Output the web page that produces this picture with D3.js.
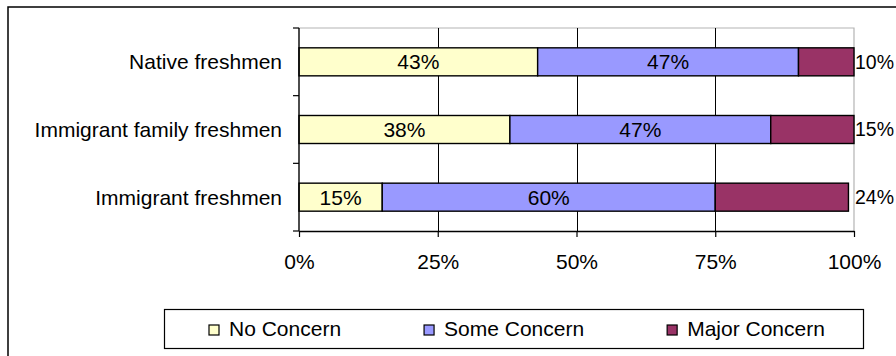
<!DOCTYPE html>
<html>
<head>
<meta charset="utf-8">
<script src="https://cdn.jsdelivr.net/npm/d3@7/dist/d3.min.js"></script>
<style>
  html, body { margin: 0; padding: 0; background: #fff; }
  svg { display: block; font-family: "Liberation Sans", Arial, sans-serif; }
</style>
</head>
<body>
<svg id="chart" width="896" height="356"></svg>
<script>
// Share of freshmen by level of concern
const categories = ["Native freshmen", "Immigrant family freshmen", "Immigrant freshmen"];
const seriesNames = ["No Concern", "Some Concern", "Major Concern"];
const noConcern = [43, 38, 15];
const someConcern = [47, 47, 60];
const majorConcern = [10, 15, 24];
const tickValues = [0, 25, 50, 75, 100];
const tickLabels = ["0%", "25%", "50%", "75%", "100%"];
const colors = ["#FFFFCC", "#9999FF", "#993366"];

const svg = d3.select("#chart");
const fontSize = 21;

// chart frame (extends past the visible window on the right and bottom)
svg.append("rect")
  .attr("x", 8).attr("y", 7).attr("width", 1200).attr("height", 1200)
  .attr("fill", "#fff").attr("stroke", "#000").attr("stroke-width", 1.5);

const plot = { left: 299, right: 854, top: 28, bottom: 231 };

const x = d3.scaleLinear().domain([0, 100]).range([plot.left, plot.right]);
const y = d3.scaleBand().domain(categories)
  .range([plot.top, plot.bottom])
  .paddingInner(0.586).paddingOuter(0.293);

// rows for stacking
const rows = categories.map((c, i) => ({
  category: c,
  "No Concern": noConcern[i],
  "Some Concern": someConcern[i],
  "Major Concern": majorConcern[i]
}));
const stacked = d3.stack().keys(seriesNames)(rows);

// plot area border (top and right)
svg.append("path")
  .attr("d", `M${plot.left},${plot.top}H${plot.right}V${plot.bottom}`)
  .attr("fill", "none").attr("stroke", "#b4b4b4").attr("stroke-width", 1.2);

// vertical gridlines
svg.append("g").selectAll("line")
  .data(tickValues.filter(v => v > 0 && v < 100))
  .join("line")
  .attr("x1", d => Math.round(x(d)) + 0.5).attr("x2", d => Math.round(x(d)) + 0.5)
  .attr("y1", plot.top).attr("y2", plot.bottom)
  .attr("stroke", "#000").attr("stroke-width", 1);

// bars
const layer = svg.append("g").selectAll("g")
  .data(stacked)
  .join("g")
  .attr("fill", (d, i) => colors[i]);

layer.selectAll("rect")
  .data(d => d)
  .join("rect")
  .attr("x", d => x(d[0]))
  .attr("y", d => y(d.data.category))
  .attr("width", d => x(d[1]) - x(d[0]))
  .attr("height", y.bandwidth())
  .attr("stroke", "#000").attr("stroke-width", 1.4);

// value labels: inside the first two segments, past the plot edge for the last
stacked.forEach((s, si) => {
  const inside = si < 2;
  svg.append("g").selectAll("text")
    .data(s)
    .join("text")
    .attr("x", d => inside ? (x(d[0]) + x(d[1])) / 2 : x(100) + 1)
    .attr("y", d => y(d.data.category) + y.bandwidth() / 2)
    .attr("dy", "0.35em")
    .attr("text-anchor", inside ? "middle" : "start")
    .attr("font-size", inside ? fontSize : 19.5)
    .attr("fill", "#000")
    .text(d => (d[1] - d[0]) + "%");
});

// x axis
const xAxis = d3.axisBottom(x)
  .tickValues(tickValues)
  .tickFormat((d, i) => tickLabels[i])
  .tickSize(6).tickSizeOuter(0).tickPadding(17);
const gx = svg.append("g")
  .attr("transform", `translate(0,${plot.bottom})`)
  .call(xAxis);
gx.select(".domain").attr("stroke", "#000").attr("stroke-width", 1.4);
gx.selectAll(".tick line").attr("stroke", "#000").attr("stroke-width", 1.2);
gx.selectAll(".tick text")
  .attr("font-size", fontSize).attr("font-family", null).attr("fill", "#000");

// y axis: ticks at category boundaries, labels centred on each bar
svg.append("line")
  .attr("x1", plot.left).attr("x2", plot.left)
  .attr("y1", plot.top).attr("y2", plot.bottom)
  .attr("stroke", "#000").attr("stroke-width", 1.4);
const boundaries = d3.range(categories.length + 1)
  .map(i => plot.top + i * y.step());
svg.append("g").selectAll("line")
  .data(boundaries)
  .join("line")
  .attr("x1", plot.left - 6).attr("x2", plot.left)
  .attr("y1", d => d).attr("y2", d => d)
  .attr("stroke", "#000").attr("stroke-width", 1.2);
svg.append("g").selectAll("text")
  .data(categories)
  .join("text")
  .attr("x", plot.left - 17)
  .attr("y", d => y(d) + y.bandwidth() / 2)
  .attr("dy", "0.35em")
  .attr("text-anchor", "end")
  .attr("font-size", fontSize)
  .attr("fill", "#000")
  .text(d => d);

// legend
const legend = svg.append("g");
legend.append("rect")
  .attr("x", 164.5).attr("y", 309.5).attr("width", 699).attr("height", 39)
  .attr("fill", "#fff").attr("stroke", "#000").attr("stroke-width", 1.2);
let lx = 209;
seriesNames.forEach((name, i) => {
  legend.append("rect")
    .attr("x", lx).attr("y", 325).attr("width", 10).attr("height", 10)
    .attr("fill", colors[i]).attr("stroke", "#000").attr("stroke-width", 1.2);
  const t = legend.append("text")
    .attr("x", lx + 20).attr("y", 329).attr("dy", "0.35em")
    .attr("font-size", fontSize).attr("fill", "#000")
    .text(name);
  lx = lx + 20 + t.node().getComputedTextLength() + 83;
});
</script>
</body>
</html>
